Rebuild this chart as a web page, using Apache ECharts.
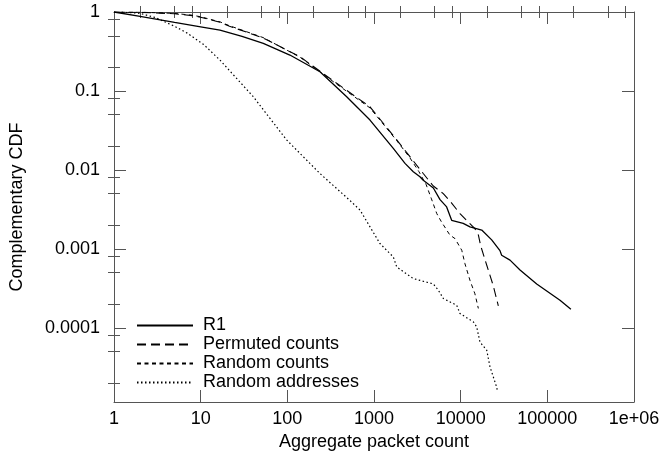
<!DOCTYPE html>
<html>
<head>
<meta charset="utf-8">
<script src="https://cdn.jsdelivr.net/npm/echarts@6/dist/echarts.min.js"></script>
<style>
  html, body { margin: 0; padding: 0; background: #fff; }
  #container { width: 662px; height: 459px; }
</style>
</head>
<body>
<div id="container"></div>
<script>
// R1
var r1X = [1, 2, 5, 10, 16.7, 30, 52.8, 107, 238, 484, 899, 1670, 2280, 2840, 3390, 3700, 4840, 5780, 6890, 7870, 10700, 12800, 17500, 22800, 28400, 29700, 37100, 48400, 75400, 140000, 187000];
var r1Y = [1, 0.88, 0.74, 0.65, 0.59, 0.49, 0.40, 0.285, 0.175, 0.0845, 0.0428, 0.0187, 0.0121, 0.0095, 0.0082, 0.0074, 0.0059, 0.0042, 0.0034, 0.0023, 0.0021, 0.0019, 0.00173, 0.0013, 0.00095, 0.00083, 0.00072, 0.00054, 0.00036, 0.000224, 0.000172];
// Permuted counts
var permX = [1, 2, 5, 8, 10, 16.7, 21.5, 52.4, 140, 371, 899, 1830, 2600, 3700, 4800, 6300, 7870, 9820, 11700, 14600, 16000, 17000, 20000, 23800, 27200];
var permY = [1, 0.99, 0.95, 0.9, 0.86, 0.74, 0.66, 0.47, 0.271, 0.125, 0.063, 0.024, 0.0147, 0.009, 0.0063, 0.005, 0.0038, 0.0028, 0.0023, 0.0018, 0.0015, 0.0011, 0.00062, 0.00034, 0.00019];
// Random counts
var rcX = [1, 2, 5, 8, 10, 16.7, 21.5, 52.4, 140, 371, 899, 1830, 2600, 3300, 4000, 4600, 5300, 6000, 7500, 8600, 10300, 11200, 12800, 14600, 16000];
var rcY = [1, 0.995, 0.96, 0.91, 0.87, 0.75, 0.67, 0.475, 0.268, 0.122, 0.061, 0.0235, 0.0142, 0.0095, 0.0065, 0.0043, 0.0028, 0.0022, 0.0015, 0.00135, 0.00096, 0.00065, 0.0004, 0.00027, 0.000176];
// Random addresses
var raX = [1, 1.5, 2, 3, 5, 7, 10.9, 16.7, 40.5, 98, 238, 528, 690, 1170, 1670, 1830, 2840, 4840, 5520, 6310, 9000, 9820, 14000, 15300, 16700, 20000, 21800, 26000, 26500];
var raY = [1, 0.985, 0.96, 0.85, 0.66, 0.54, 0.385, 0.246, 0.0845, 0.024, 0.009, 0.0041, 0.0031, 0.00117, 0.00079, 0.00059, 0.00042, 0.00036, 0.0003, 0.000235, 0.000193, 0.000152, 0.000119, 0.000103, 6.6e-5, 5.2e-5, 3.2e-5, 1.78e-5, 1.6e-5];

var seriesNames = ['R1', 'Permuted counts', 'Random counts', 'Random addresses'];
// tick labels by decade exponent
var xTickLabels = {0: '1', 1: '10', 2: '100', 3: '1000', 4: '10000', 5: '100000', 6: '1e+06'};
var yTickLabels = {0: '1', '-1': '0.1', '-2': '0.01', '-3': '0.001', '-4': '0.0001'};
var xMin = 1, xMax = 1e6;
var yMin = 1.15e-5, yMax = 1;
var minorMult = [2, 5, 8];

function pairs(xs, ys) {
	var out = [];
	for (var i = 0; i < xs.length; i++) out.push([xs[i], ys[i]]);
	return out;
}

// minor tick positions (in log10 units) for the overlay value axes
function minorTicks(lo, hi) {
	var t = [];
	for (var k = Math.floor(lo); k <= Math.ceil(hi); k++) {
		for (var j = 0; j < minorMult.length; j++) {
			var v = k + Math.log10(minorMult[j]);
			if (v > lo && v < hi) t.push(v);
		}
	}
	return t;
}

var font = "'Liberation Sans', Arial, sans-serif";
var axisColor = '#555';

function logAxis(pos, main, isX) {
	var a = {
		type: 'log',
		logBase: 10,
		position: pos,
		min: isX ? xMin : yMin,
		max: isX ? xMax : yMax,
		axisLine: {show: true, onZero: false, lineStyle: {color: axisColor, width: 1}},
		axisTick: {show: true, inside: true, length: 12, lineStyle: {color: axisColor, width: 1}},
		axisLabel: {show: false},
		splitLine: {show: false},
		minorTick: {show: false}
	};
	if (main) {
		a.axisLabel = {
			show: true,
			color: '#000',
			fontFamily: font,
			fontSize: 18,
			margin: isX ? 8 : 14,
			showMinLabel: isX ? true : false,
			formatter: function (v) {
				var k = Math.round(Math.log10(v));
				var lab = isX ? xTickLabels[k] : yTickLabels[k];
				return lab === undefined ? '' : lab;
			}
		};
		a.name = isX ? 'Aggregate packet count' : 'Complementary CDF';
		a.nameLocation = 'middle';
		a.nameGap = isX ? 30 : 88;
		a.nameTextStyle = {color: '#000', fontFamily: font, fontSize: 18};
	}
	return a;
}

function minorAxis(pos, isX) {
	var lo = Math.log10(isX ? xMin : yMin), hi = Math.log10(isX ? xMax : yMax);
	return {
		type: 'value',
		position: pos,
		min: lo,
		max: hi,
		axisLine: {show: false},
		axisTick: {show: true, inside: true, length: 6, customValues: minorTicks(lo, hi), lineStyle: {color: axisColor, width: 1}},
		axisLabel: {show: false},
		splitLine: {show: false}
	};
}

var option = {
	animation: false,
	backgroundColor: '#fff',
	grid: {left: 114, right: 28, top: 12, bottom: 57, outerBoundsMode: 'none'},
	legend: {
		orient: 'vertical',
		left: 136,
		top: 316,
		padding: 0,
		itemGap: 0,
		itemWidth: 56,
		itemHeight: 10,
		data: seriesNames,
		// hide the marker circle, keep only the line sample
		itemStyle: {color: 'rgba(0,0,0,0)', borderColor: 'rgba(0,0,0,0)', borderWidth: 0},
		textStyle: {color: '#000', fontFamily: font, fontSize: 18, lineHeight: 19, padding: [0, 0, 0, 5]}
	},
	xAxis: [logAxis('bottom', true, true), logAxis('top', false, true), minorAxis('bottom', true), minorAxis('top', true)],
	yAxis: [logAxis('left', true, false), logAxis('right', false, false), minorAxis('left', false), minorAxis('right', false)],
	series: [
		{name: seriesNames[0], type: 'line', symbol: 'none', data: pairs(r1X, r1Y), lineStyle: {color: '#000', width: 1.3, type: 'solid'}, itemStyle: {color: '#000'}},
		{name: seriesNames[1], type: 'line', symbol: 'none', data: pairs(permX, permY), lineStyle: {color: '#000', width: 1.1, type: [9, 5]}, itemStyle: {color: '#000'}},
		{name: seriesNames[2], type: 'line', symbol: 'none', data: pairs(rcX, rcY), lineStyle: {color: '#000', width: 1, type: [4, 3.5]}, itemStyle: {color: '#000'}},
		{name: seriesNames[3], type: 'line', symbol: 'none', data: pairs(raX, raY), lineStyle: {color: '#000', width: 1.2, type: [1.5, 2.5]}, itemStyle: {color: '#000'}}
	]
};

var chart = echarts.init(document.getElementById('container'));
chart.setOption(option);
</script>
</body>
</html>
